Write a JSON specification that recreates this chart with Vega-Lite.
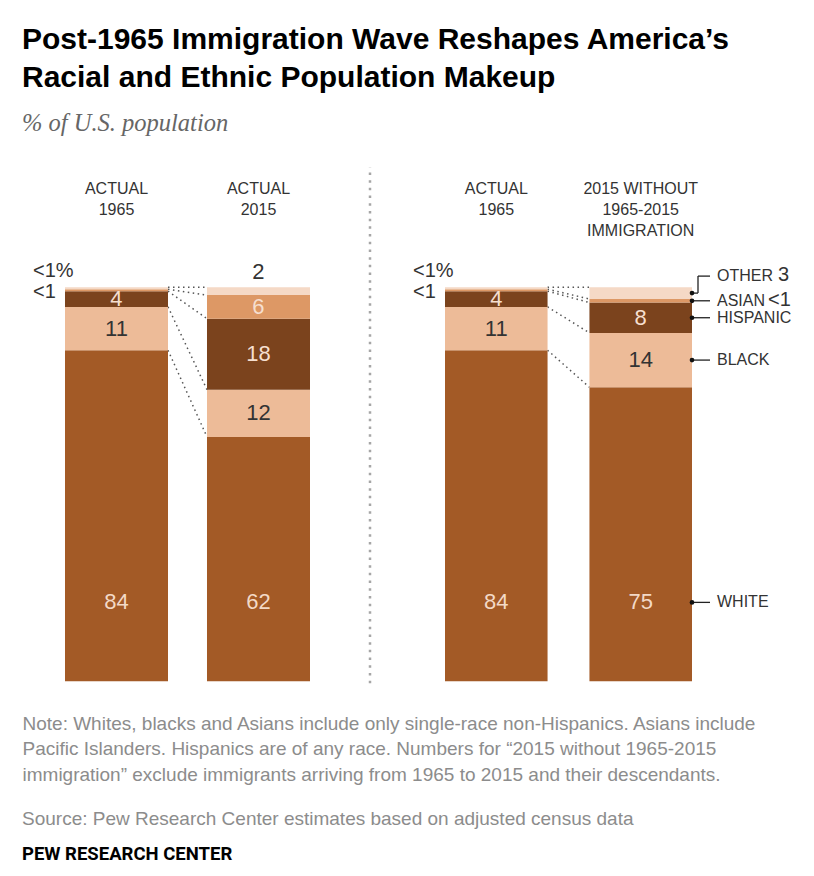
{
  "$schema": "https://vega.github.io/schema/vega-lite/v6.json",
  "background": "white",
  "padding": {"left": 22, "top": 25, "right": 4, "bottom": 6},
  "config": {"view": {"stroke": null}, "text": {"font": "Liberation Sans"}},
  "title": {
    "text": ["Post-1965 Immigration Wave Reshapes America’s", "Racial and Ethnic Population Makeup"],
    "subtitle": "% of U.S. population",
    "anchor": "start",
    "font": "Liberation Sans",
    "fontSize": 30,
    "fontWeight": "bold",
    "lineHeight": 38,
    "color": "#000000",
    "subtitleFont": "Liberation Serif",
    "subtitleFontSize": 24.5,
    "subtitleFontStyle": "italic",
    "subtitleColor": "#666666",
    "subtitlePadding": 19,
    "offset": 30
  },
  "datasets": {
    "bars": [
      {"panel": "left", "bar": "first", "header": "ACTUAL|1965", "category": "White", "value": 84, "label": "84"},
      {"panel": "left", "bar": "first", "header": "ACTUAL|1965", "category": "Black", "value": 11, "label": "11"},
      {"panel": "left", "bar": "first", "header": "ACTUAL|1965", "category": "Hispanic", "value": 4, "label": "4"},
      {"panel": "left", "bar": "first", "header": "ACTUAL|1965", "category": "Asian", "value": 0.5, "label": "<1"},
      {"panel": "left", "bar": "first", "header": "ACTUAL|1965", "category": "Other", "value": 0.5, "label": "<1"},
      {"panel": "left", "bar": "second", "header": "ACTUAL|2015", "category": "White", "value": 62, "label": "62"},
      {"panel": "left", "bar": "second", "header": "ACTUAL|2015", "category": "Black", "value": 12, "label": "12"},
      {"panel": "left", "bar": "second", "header": "ACTUAL|2015", "category": "Hispanic", "value": 18, "label": "18"},
      {"panel": "left", "bar": "second", "header": "ACTUAL|2015", "category": "Asian", "value": 6, "label": "6"},
      {"panel": "left", "bar": "second", "header": "ACTUAL|2015", "category": "Other", "value": 2, "label": "2"},
      {"panel": "right", "bar": "first", "header": "ACTUAL|1965", "category": "White", "value": 84, "label": "84"},
      {"panel": "right", "bar": "first", "header": "ACTUAL|1965", "category": "Black", "value": 11, "label": "11"},
      {"panel": "right", "bar": "first", "header": "ACTUAL|1965", "category": "Hispanic", "value": 4, "label": "4"},
      {"panel": "right", "bar": "first", "header": "ACTUAL|1965", "category": "Asian", "value": 0.5, "label": "<1"},
      {"panel": "right", "bar": "first", "header": "ACTUAL|1965", "category": "Other", "value": 0.5, "label": "<1"},
      {"panel": "right", "bar": "second", "header": "2015 WITHOUT|1965-2015|IMMIGRATION", "category": "White", "value": 74.6, "label": "75"},
      {"panel": "right", "bar": "second", "header": "2015 WITHOUT|1965-2015|IMMIGRATION", "category": "Black", "value": 13.8, "label": "14"},
      {"panel": "right", "bar": "second", "header": "2015 WITHOUT|1965-2015|IMMIGRATION", "category": "Hispanic", "value": 7.7, "label": "8"},
      {"panel": "right", "bar": "second", "header": "2015 WITHOUT|1965-2015|IMMIGRATION", "category": "Asian", "value": 0.9, "label": "<1"},
      {"panel": "right", "bar": "second", "header": "2015 WITHOUT|1965-2015|IMMIGRATION", "category": "Other", "value": 3, "label": "3"}
    ]
  },
  "vconcat": [
    {
      "title": {"text": "PEW RESEARCH CENTER", "orient": "bottom", "anchor": "start", "font": "Roboto", "fontSize": 18.5, "fontWeight": "bold", "color": "#000000", "offset": 16},
      "vconcat": [
        {
          "title": {"text": "Source: Pew Research Center estimates based on adjusted census data", "orient": "bottom", "anchor": "start", "font": "Liberation Sans", "fontSize": 19, "fontWeight": "normal", "color": "#8c8c8c", "offset": 26},
          "hconcat": [
            {
              "width": 288,
              "height": 524,
              "data": {"name": "bars"},
              "transform": [
                {"filter": "datum.panel == 'left'"},
                {"calculate": "indexof(['White','Black','Hispanic','Asian','Other'], datum.category)", "as": "k"},
                {"stack": "value", "groupby": ["panel", "bar"], "sort": [{"field": "k", "order": "ascending"}], "as": ["y0", "y1"]},
                {"calculate": "(datum.y0 + datum.y1) / 2", "as": "ymid"}
              ],
              "layer": [
                {
                  "transform": [{"filter": "datum.category == 'White' && datum.bar == 'first'"}],
                  "mark": {"type": "rule", "xOffset": 60, "color": "#a6a6a6", "strokeWidth": 2.5, "strokeDash": [2.5, 5.2]},
                  "encoding": {
                    "x": {"datum": "second", "type": "nominal", "bandPosition": 1, "scale": {"domain": ["first", "second"], "paddingInner": 0.2746, "paddingOuter": 0.1514, "align": 1},
                      "axis": {"orient": "bottom", "labels": false, "ticks": false, "domain": false, "grid": false,
                        "title": ["Note: Whites, blacks and Asians include only single-race non-Hispanics. Asians include", "Pacific Islanders. Hispanics are of any race. Numbers for “2015 without 1965-2015", "immigration” exclude immigrants arriving from 1965 to 2015 and their descendants."],
                        "titleAnchor": "start", "titleAlign": "left", "titleBaseline": "top", "titleFont": "Liberation Sans", "titleFontSize": 19, "titleFontWeight": "normal", "titleColor": "#8c8c8c", "titleLineHeight": 25.5, "titlePadding": 21}},
                    "y": {"datum": -0.5, "type": "quantitative", "scale": {"domain": [-3, 130], "nice": false, "zero": false}, "axis": null},
                    "y2": {"datum": 130.5}
                  }
                },
                {
                  "transform": [{"pivot": "bar", "value": "y1", "groupby": ["category"]}],
                  "mark": {"type": "rule", "color": "#555555", "strokeWidth": 1.5, "strokeDash": [1.5, 3.5]},
                  "encoding": {
                    "x": {"datum": "first", "type": "nominal", "bandPosition": 1},
                    "x2": {"datum": "second", "bandPosition": 0},
                    "y": {"field": "first", "type": "quantitative"},
                    "y2": {"field": "second"}
                  }
                },
                {
                  "mark": {"type": "bar"},
                  "encoding": {
                    "x": {"field": "bar", "type": "nominal"},
                    "y": {"field": "y1", "type": "quantitative"},
                    "y2": {"field": "y0"},
                    "color": {"field": "category", "type": "nominal", "legend": null,
                      "scale": {"domain": ["White", "Black", "Hispanic", "Asian", "Other"], "range": ["#A35A26", "#EDBB98", "#7B431D", "#DD9865", "#F5D9C6"]}}
                  }
                },
                {
                  "transform": [{"filter": "datum.category == 'White'"}, {"calculate": "split(datum.header, '|')", "as": "hl"}],
                  "mark": {"type": "text", "baseline": "top", "align": "center", "fontSize": 16, "lineHeight": 21, "color": "#333333"},
                  "encoding": {"x": {"field": "bar", "type": "nominal"}, "y": {"datum": 127, "type": "quantitative"}, "text": {"field": "hl"}}
                },
                {
                  "transform": [{"filter": "datum.category == 'Black' || datum.category == 'Hispanic' || (datum.category == 'Asian' && datum.bar == 'second')"}],
                  "mark": {"type": "text", "baseline": "middle", "align": "center", "fontSize": 22},
                  "encoding": {
                    "x": {"field": "bar", "type": "nominal"},
                    "y": {"field": "ymid", "type": "quantitative"},
                    "text": {"field": "label"},
                    "color": {"condition": {"test": "datum.category == 'Black'", "value": "#333333"}, "value": "#F6DFCF"}
                  }
                },
                {
                  "transform": [{"filter": "datum.category == 'White'"}],
                  "mark": {"type": "text", "baseline": "middle", "align": "center", "fontSize": 22, "color": "#F3D9C6"},
                  "encoding": {"x": {"field": "bar", "type": "nominal"}, "y": {"datum": 20, "type": "quantitative"}, "text": {"field": "label"}}
                },
                {
                  "transform": [{"filter": "datum.bar == 'first' && datum.category == 'Other'"}, {"calculate": "datum.label + '%'", "as": "pl"}],
                  "mark": {"type": "text", "baseline": "middle", "align": "left", "dx": -32, "dy": -17, "fontSize": 20, "color": "#333333"},
                  "encoding": {"x": {"datum": "first", "type": "nominal", "bandPosition": 0}, "y": {"field": "ymid", "type": "quantitative"}, "text": {"field": "pl"}}
                },
                {
                  "transform": [{"filter": "datum.bar == 'first' && datum.category == 'Asian'"}],
                  "mark": {"type": "text", "baseline": "middle", "align": "left", "dx": -32, "dy": 2, "fontSize": 20, "color": "#333333"},
                  "encoding": {"x": {"datum": "first", "type": "nominal", "bandPosition": 0}, "y": {"field": "ymid", "type": "quantitative"}, "text": {"field": "label"}}
                },
                {
                  "transform": [{"filter": "datum.bar == 'second' && datum.category == 'Other'"}],
                  "mark": {"type": "text", "baseline": "bottom", "align": "center", "dy": -3, "fontSize": 22, "color": "#333333"},
                  "encoding": {"x": {"field": "bar", "type": "nominal"}, "y": {"field": "y1", "type": "quantitative"}, "text": {"field": "label"}}
                }
              ]
            },
            {
              "width": 247,
              "height": 524,
              "data": {"name": "bars"},
              "transform": [
                {"filter": "datum.panel == 'right'"},
                {"calculate": "indexof(['White','Black','Hispanic','Asian','Other'], datum.category)", "as": "k"},
                {"stack": "value", "groupby": ["panel", "bar"], "sort": [{"field": "k", "order": "ascending"}], "as": ["y0", "y1"]},
                {"calculate": "(datum.y0 + datum.y1) / 2", "as": "ymid"},
                {"calculate": "datum.category == 'White' ? 20 : datum.ymid", "as": "ly"}
              ],
              "layer": [
                {
                  "transform": [{"pivot": "bar", "value": "y1", "groupby": ["category"]}],
                  "mark": {"type": "rule", "color": "#555555", "strokeWidth": 1.5, "strokeDash": [1.5, 3.5]},
                  "encoding": {
                    "x": {"datum": "first", "type": "nominal", "bandPosition": 1, "scale": {"domain": ["first", "second"], "paddingInner": 0.29, "paddingOuter": 0}, "axis": null},
                    "x2": {"datum": "second", "bandPosition": 0},
                    "y": {"field": "first", "type": "quantitative", "scale": {"domain": [-3, 130], "nice": false, "zero": false}, "axis": null},
                    "y2": {"field": "second"}
                  }
                },
                {
                  "mark": {"type": "bar"},
                  "encoding": {
                    "x": {"field": "bar", "type": "nominal"},
                    "y": {"field": "y1", "type": "quantitative"},
                    "y2": {"field": "y0"},
                    "color": {"field": "category", "type": "nominal", "legend": null,
                      "scale": {"domain": ["White", "Black", "Hispanic", "Asian", "Other"], "range": ["#A35A26", "#EDBB98", "#7B431D", "#DD9865", "#F5D9C6"]}}
                  }
                },
                {
                  "transform": [{"filter": "datum.category == 'White'"}, {"calculate": "split(datum.header, '|')", "as": "hl"}],
                  "mark": {"type": "text", "baseline": "top", "align": "center", "fontSize": 16, "lineHeight": 21, "color": "#333333"},
                  "encoding": {"x": {"field": "bar", "type": "nominal"}, "y": {"datum": 127, "type": "quantitative"}, "text": {"field": "hl"}}
                },
                {
                  "transform": [{"filter": "datum.category == 'Black' || datum.category == 'Hispanic'"}],
                  "mark": {"type": "text", "baseline": "middle", "align": "center", "fontSize": 22},
                  "encoding": {
                    "x": {"field": "bar", "type": "nominal"},
                    "y": {"field": "ymid", "type": "quantitative"},
                    "text": {"field": "label"},
                    "color": {"condition": {"test": "datum.category == 'Black'", "value": "#333333"}, "value": "#F6DFCF"}
                  }
                },
                {
                  "transform": [{"filter": "datum.category == 'White'"}],
                  "mark": {"type": "text", "baseline": "middle", "align": "center", "fontSize": 22, "color": "#F3D9C6"},
                  "encoding": {"x": {"field": "bar", "type": "nominal"}, "y": {"datum": 20, "type": "quantitative"}, "text": {"field": "label"}}
                },
                {
                  "transform": [{"filter": "datum.bar == 'first' && datum.category == 'Other'"}, {"calculate": "datum.label + '%'", "as": "pl"}],
                  "mark": {"type": "text", "baseline": "middle", "align": "left", "dx": -32, "dy": -17, "fontSize": 20, "color": "#333333"},
                  "encoding": {"x": {"datum": "first", "type": "nominal", "bandPosition": 0}, "y": {"field": "ymid", "type": "quantitative"}, "text": {"field": "pl"}}
                },
                {
                  "transform": [{"filter": "datum.bar == 'first' && datum.category == 'Asian'"}],
                  "mark": {"type": "text", "baseline": "middle", "align": "left", "dx": -32, "dy": 2, "fontSize": 20, "color": "#333333"},
                  "encoding": {"x": {"datum": "first", "type": "nominal", "bandPosition": 0}, "y": {"field": "ymid", "type": "quantitative"}, "text": {"field": "label"}}
                },
                {
                  "transform": [{"filter": "datum.bar == 'second' && datum.category != 'Other'"}],
                  "mark": {"type": "rule", "x2Offset": 18, "color": "#222222", "strokeWidth": 1.3},
                  "encoding": {"x": {"datum": "second", "type": "nominal", "bandPosition": 1}, "x2": {"datum": "second", "bandPosition": 1}, "y": {"field": "ly", "type": "quantitative"}}
                },
                {
                  "transform": [{"filter": "datum.bar == 'second' && datum.category == 'Other'"}],
                  "mark": {"type": "rule", "x2Offset": 6, "color": "#222222", "strokeWidth": 1.3},
                  "encoding": {"x": {"datum": "second", "type": "nominal", "bandPosition": 1}, "x2": {"datum": "second", "bandPosition": 1}, "y": {"field": "ly", "type": "quantitative"}}
                },
                {
                  "transform": [{"filter": "datum.bar == 'second' && datum.category == 'Other'"}],
                  "mark": {"type": "rule", "xOffset": 6, "y2Offset": -17, "color": "#222222", "strokeWidth": 1.3},
                  "encoding": {"x": {"datum": "second", "type": "nominal", "bandPosition": 1}, "y": {"field": "ly", "type": "quantitative"}, "y2": {"field": "ly"}}
                },
                {
                  "transform": [{"filter": "datum.bar == 'second' && datum.category == 'Other'"}],
                  "mark": {"type": "rule", "xOffset": 6, "x2Offset": 18, "yOffset": -17, "color": "#222222", "strokeWidth": 1.3},
                  "encoding": {"x": {"datum": "second", "type": "nominal", "bandPosition": 1}, "x2": {"datum": "second", "bandPosition": 1}, "y": {"field": "ly", "type": "quantitative"}}
                },
                {
                  "transform": [{"filter": "datum.bar == 'second'"}],
                  "mark": {"type": "point", "filled": true, "size": 22, "color": "#111111", "opacity": 1},
                  "encoding": {"x": {"datum": "second", "type": "nominal", "bandPosition": 1}, "y": {"field": "ly", "type": "quantitative"}}
                },
                {
                  "transform": [{"filter": "datum.bar == 'second' && datum.category != 'Other'"}, {"calculate": "upper(datum.category)", "as": "nm"}],
                  "mark": {"type": "text", "baseline": "middle", "align": "left", "dx": 25, "fontSize": 16, "color": "#333333"},
                  "encoding": {"x": {"datum": "second", "type": "nominal", "bandPosition": 1}, "y": {"field": "ly", "type": "quantitative"}, "text": {"field": "nm"}}
                },
                {
                  "transform": [{"filter": "datum.bar == 'second' && datum.category == 'Other'"}, {"calculate": "upper(datum.category)", "as": "nm"}],
                  "mark": {"type": "text", "baseline": "middle", "align": "left", "dx": 25, "dy": -17, "fontSize": 16, "color": "#333333"},
                  "encoding": {"x": {"datum": "second", "type": "nominal", "bandPosition": 1}, "y": {"field": "ly", "type": "quantitative"}, "text": {"field": "nm"}}
                },
                {
                  "transform": [{"filter": "datum.bar == 'second' && datum.category == 'Other'"}],
                  "mark": {"type": "text", "baseline": "middle", "align": "left", "dx": 86, "dy": -18, "fontSize": 20, "color": "#333333"},
                  "encoding": {"x": {"datum": "second", "type": "nominal", "bandPosition": 1}, "y": {"field": "ly", "type": "quantitative"}, "text": {"field": "label"}}
                },
                {
                  "transform": [{"filter": "datum.bar == 'second' && datum.category == 'Asian'"}],
                  "mark": {"type": "text", "baseline": "middle", "align": "left", "dx": 76, "dy": -1, "fontSize": 20, "color": "#333333"},
                  "encoding": {"x": {"datum": "second", "type": "nominal", "bandPosition": 1}, "y": {"field": "ly", "type": "quantitative"}, "text": {"field": "label"}}
                }
              ]
            }
          ],
          "spacing": 135,
          "bounds": "flush"
        }
      ]
    }
  ]
}
